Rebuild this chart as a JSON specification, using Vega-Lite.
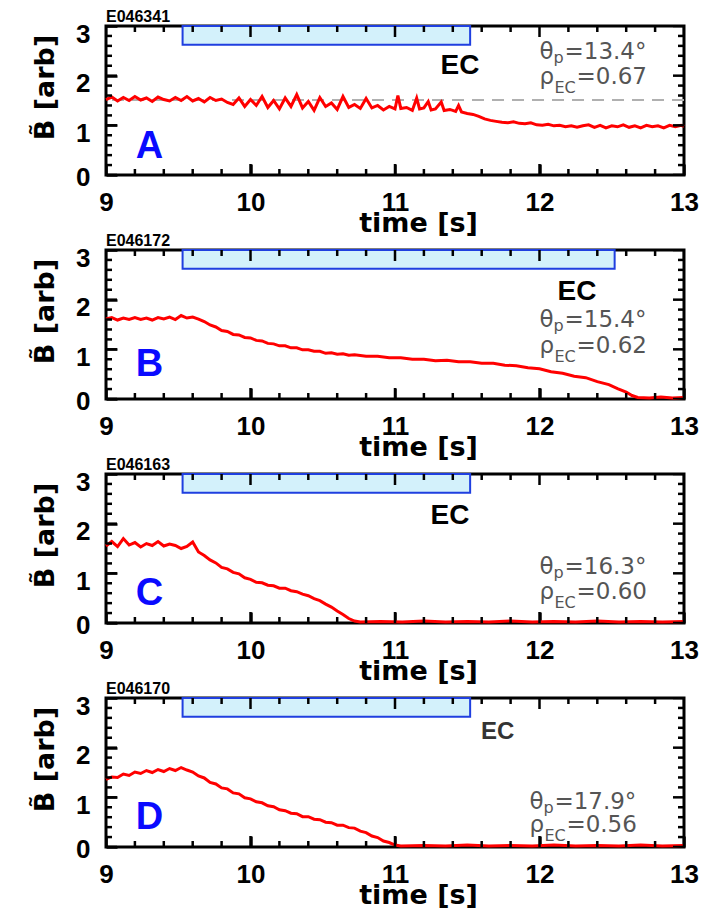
{
"$schema":"https://vega.github.io/schema/vega-lite/v6.json",
"background":"white",
"padding":{"left":30,"top":7,"right":5,"bottom":2},
"bounds":"flush",
"spacing":75,
"datasets":{
"signal":[
{"panel":"A","t":9.00,"b":1.52},{"panel":"A","t":9.04,"b":1.57},{"panel":"A","t":9.08,"b":1.49},{"panel":"A","t":9.12,"b":1.56},{"panel":"A","t":9.16,"b":1.50},{"panel":"A","t":9.20,"b":1.58},{"panel":"A","t":9.24,"b":1.51},{"panel":"A","t":9.28,"b":1.55},{"panel":"A","t":9.32,"b":1.48},{"panel":"A","t":9.36,"b":1.57},{"panel":"A","t":9.40,"b":1.52},{"panel":"A","t":9.44,"b":1.49},{"panel":"A","t":9.48,"b":1.56},{"panel":"A","t":9.52,"b":1.50},{"panel":"A","t":9.56,"b":1.58},{"panel":"A","t":9.60,"b":1.49},{"panel":"A","t":9.64,"b":1.54},{"panel":"A","t":9.68,"b":1.47},{"panel":"A","t":9.72,"b":1.56},{"panel":"A","t":9.76,"b":1.50},{"panel":"A","t":9.80,"b":1.53},{"panel":"A","t":9.84,"b":1.46},{"panel":"A","t":9.88,"b":1.42},{"panel":"A","t":9.92,"b":1.55},{"panel":"A","t":9.96,"b":1.38},{"panel":"A","t":10.00,"b":1.52},{"panel":"A","t":10.04,"b":1.40},{"panel":"A","t":10.08,"b":1.58},{"panel":"A","t":10.12,"b":1.36},{"panel":"A","t":10.16,"b":1.50},{"panel":"A","t":10.20,"b":1.33},{"panel":"A","t":10.24,"b":1.55},{"panel":"A","t":10.28,"b":1.38},{"panel":"A","t":10.32,"b":1.62},{"panel":"A","t":10.36,"b":1.35},{"panel":"A","t":10.40,"b":1.48},{"panel":"A","t":10.44,"b":1.30},{"panel":"A","t":10.48,"b":1.56},{"panel":"A","t":10.52,"b":1.38},{"panel":"A","t":10.56,"b":1.45},{"panel":"A","t":10.60,"b":1.32},{"panel":"A","t":10.64,"b":1.58},{"panel":"A","t":10.68,"b":1.36},{"panel":"A","t":10.72,"b":1.42},{"panel":"A","t":10.76,"b":1.34},{"panel":"A","t":10.80,"b":1.54},{"panel":"A","t":10.84,"b":1.35},{"panel":"A","t":10.88,"b":1.40},{"panel":"A","t":10.92,"b":1.31},{"panel":"A","t":10.96,"b":1.38},{"panel":"A","t":11.00,"b":1.33},{"panel":"A","t":11.02,"b":1.60},{"panel":"A","t":11.04,"b":1.34},{"panel":"A","t":11.08,"b":1.36},{"panel":"A","t":11.12,"b":1.30},{"panel":"A","t":11.15,"b":1.55},{"panel":"A","t":11.17,"b":1.33},{"panel":"A","t":11.20,"b":1.35},{"panel":"A","t":11.23,"b":1.48},{"panel":"A","t":11.25,"b":1.31},{"panel":"A","t":11.28,"b":1.33},{"panel":"A","t":11.32,"b":1.47},{"panel":"A","t":11.34,"b":1.30},{"panel":"A","t":11.38,"b":1.32},{"panel":"A","t":11.42,"b":1.28},{"panel":"A","t":11.44,"b":1.40},{"panel":"A","t":11.46,"b":1.27},{"panel":"A","t":11.50,"b":1.24},{"panel":"A","t":11.54,"b":1.22},{"panel":"A","t":11.58,"b":1.18},{"panel":"A","t":11.62,"b":1.13},{"panel":"A","t":11.66,"b":1.10},{"panel":"A","t":11.70,"b":1.08},{"panel":"A","t":11.74,"b":1.06},{"panel":"A","t":11.78,"b":1.05},{"panel":"A","t":11.82,"b":1.07},{"panel":"A","t":11.86,"b":1.04},{"panel":"A","t":11.90,"b":1.03},{"panel":"A","t":11.94,"b":1.05},{"panel":"A","t":11.98,"b":1.01},{"panel":"A","t":12.02,"b":1.00},{"panel":"A","t":12.06,"b":1.02},{"panel":"A","t":12.10,"b":0.99},{"panel":"A","t":12.14,"b":1.00},{"panel":"A","t":12.18,"b":0.97},{"panel":"A","t":12.22,"b":0.99},{"panel":"A","t":12.26,"b":0.96},{"panel":"A","t":12.30,"b":0.99},{"panel":"A","t":12.34,"b":1.01},{"panel":"A","t":12.38,"b":0.96},{"panel":"A","t":12.42,"b":1.00},{"panel":"A","t":12.46,"b":0.95},{"panel":"A","t":12.50,"b":0.99},{"panel":"A","t":12.54,"b":0.97},{"panel":"A","t":12.58,"b":1.01},{"panel":"A","t":12.62,"b":0.96},{"panel":"A","t":12.66,"b":0.99},{"panel":"A","t":12.70,"b":0.95},{"panel":"A","t":12.74,"b":1.00},{"panel":"A","t":12.78,"b":0.97},{"panel":"A","t":12.82,"b":0.99},{"panel":"A","t":12.86,"b":0.95},{"panel":"A","t":12.90,"b":1.00},{"panel":"A","t":12.94,"b":0.97},{"panel":"A","t":12.98,"b":1.00},{"panel":"A","t":13.00,"b":0.98},
{"panel":"B","t":9.00,"b":1.61},{"panel":"B","t":9.04,"b":1.64},{"panel":"B","t":9.08,"b":1.59},{"panel":"B","t":9.12,"b":1.63},{"panel":"B","t":9.16,"b":1.60},{"panel":"B","t":9.20,"b":1.64},{"panel":"B","t":9.24,"b":1.60},{"panel":"B","t":9.28,"b":1.63},{"panel":"B","t":9.32,"b":1.59},{"panel":"B","t":9.36,"b":1.64},{"panel":"B","t":9.40,"b":1.61},{"panel":"B","t":9.44,"b":1.65},{"panel":"B","t":9.48,"b":1.60},{"panel":"B","t":9.52,"b":1.68},{"panel":"B","t":9.56,"b":1.63},{"panel":"B","t":9.60,"b":1.65},{"panel":"B","t":9.64,"b":1.61},{"panel":"B","t":9.68,"b":1.56},{"panel":"B","t":9.72,"b":1.49},{"panel":"B","t":9.76,"b":1.45},{"panel":"B","t":9.80,"b":1.38},{"panel":"B","t":9.84,"b":1.36},{"panel":"B","t":9.88,"b":1.30},{"panel":"B","t":9.92,"b":1.29},{"panel":"B","t":9.96,"b":1.24},{"panel":"B","t":10.00,"b":1.23},{"panel":"B","t":10.04,"b":1.18},{"panel":"B","t":10.08,"b":1.17},{"panel":"B","t":10.12,"b":1.12},{"panel":"B","t":10.16,"b":1.11},{"panel":"B","t":10.20,"b":1.07},{"panel":"B","t":10.24,"b":1.07},{"panel":"B","t":10.28,"b":1.03},{"panel":"B","t":10.32,"b":1.03},{"panel":"B","t":10.36,"b":0.99},{"panel":"B","t":10.40,"b":0.99},{"panel":"B","t":10.44,"b":0.96},{"panel":"B","t":10.48,"b":0.96},{"panel":"B","t":10.52,"b":0.92},{"panel":"B","t":10.56,"b":0.93},{"panel":"B","t":10.60,"b":0.90},{"panel":"B","t":10.64,"b":0.91},{"panel":"B","t":10.68,"b":0.88},{"panel":"B","t":10.72,"b":0.89},{"panel":"B","t":10.80,"b":0.86},{"panel":"B","t":10.88,"b":0.86},{"panel":"B","t":10.96,"b":0.83},{"panel":"B","t":11.04,"b":0.83},{"panel":"B","t":11.12,"b":0.80},{"panel":"B","t":11.20,"b":0.80},{"panel":"B","t":11.28,"b":0.77},{"panel":"B","t":11.36,"b":0.78},{"panel":"B","t":11.44,"b":0.75},{"panel":"B","t":11.52,"b":0.75},{"panel":"B","t":11.60,"b":0.72},{"panel":"B","t":11.68,"b":0.72},{"panel":"B","t":11.76,"b":0.68},{"panel":"B","t":11.84,"b":0.67},{"panel":"B","t":11.92,"b":0.63},{"panel":"B","t":12.00,"b":0.61},{"panel":"B","t":12.08,"b":0.55},{"panel":"B","t":12.16,"b":0.52},{"panel":"B","t":12.24,"b":0.46},{"panel":"B","t":12.32,"b":0.43},{"panel":"B","t":12.40,"b":0.35},{"panel":"B","t":12.48,"b":0.29},{"panel":"B","t":12.54,"b":0.21},{"panel":"B","t":12.60,"b":0.14},{"panel":"B","t":12.64,"b":0.07},{"panel":"B","t":12.68,"b":0.03},{"panel":"B","t":12.76,"b":0.02},{"panel":"B","t":12.84,"b":0.04},{"panel":"B","t":12.92,"b":0.02},{"panel":"B","t":13.00,"b":0.03},
{"panel":"C","t":9.00,"b":1.55},{"panel":"C","t":9.04,"b":1.64},{"panel":"C","t":9.08,"b":1.54},{"panel":"C","t":9.12,"b":1.70},{"panel":"C","t":9.16,"b":1.57},{"panel":"C","t":9.20,"b":1.62},{"panel":"C","t":9.24,"b":1.53},{"panel":"C","t":9.28,"b":1.60},{"panel":"C","t":9.32,"b":1.56},{"panel":"C","t":9.36,"b":1.64},{"panel":"C","t":9.40,"b":1.55},{"panel":"C","t":9.44,"b":1.59},{"panel":"C","t":9.48,"b":1.56},{"panel":"C","t":9.52,"b":1.50},{"panel":"C","t":9.56,"b":1.54},{"panel":"C","t":9.60,"b":1.63},{"panel":"C","t":9.64,"b":1.43},{"panel":"C","t":9.68,"b":1.36},{"panel":"C","t":9.72,"b":1.27},{"panel":"C","t":9.76,"b":1.21},{"panel":"C","t":9.80,"b":1.12},{"panel":"C","t":9.84,"b":1.09},{"panel":"C","t":9.88,"b":1.02},{"panel":"C","t":9.92,"b":0.99},{"panel":"C","t":9.96,"b":0.91},{"panel":"C","t":10.00,"b":0.88},{"panel":"C","t":10.04,"b":0.82},{"panel":"C","t":10.08,"b":0.81},{"panel":"C","t":10.12,"b":0.76},{"panel":"C","t":10.16,"b":0.75},{"panel":"C","t":10.20,"b":0.70},{"panel":"C","t":10.24,"b":0.70},{"panel":"C","t":10.28,"b":0.65},{"panel":"C","t":10.32,"b":0.63},{"panel":"C","t":10.36,"b":0.58},{"panel":"C","t":10.40,"b":0.55},{"panel":"C","t":10.44,"b":0.49},{"panel":"C","t":10.48,"b":0.45},{"panel":"C","t":10.52,"b":0.38},{"panel":"C","t":10.56,"b":0.32},{"panel":"C","t":10.60,"b":0.24},{"panel":"C","t":10.64,"b":0.17},{"panel":"C","t":10.68,"b":0.09},{"panel":"C","t":10.72,"b":0.04},{"panel":"C","t":10.76,"b":0.02},{"panel":"C","t":10.90,"b":0.03},{"panel":"C","t":11.05,"b":0.02},{"panel":"C","t":11.20,"b":0.04},{"panel":"C","t":11.35,"b":0.02},{"panel":"C","t":11.50,"b":0.03},{"panel":"C","t":11.65,"b":0.02},{"panel":"C","t":11.80,"b":0.04},{"panel":"C","t":11.95,"b":0.02},{"panel":"C","t":12.10,"b":0.03},{"panel":"C","t":12.25,"b":0.02},{"panel":"C","t":12.40,"b":0.04},{"panel":"C","t":12.55,"b":0.02},{"panel":"C","t":12.70,"b":0.03},{"panel":"C","t":12.85,"b":0.02},{"panel":"C","t":13.00,"b":0.03},
{"panel":"D","t":9.00,"b":1.36},{"panel":"D","t":9.04,"b":1.41},{"panel":"D","t":9.08,"b":1.40},{"panel":"D","t":9.12,"b":1.47},{"panel":"D","t":9.16,"b":1.44},{"panel":"D","t":9.20,"b":1.51},{"panel":"D","t":9.24,"b":1.48},{"panel":"D","t":9.28,"b":1.54},{"panel":"D","t":9.32,"b":1.50},{"panel":"D","t":9.36,"b":1.56},{"panel":"D","t":9.40,"b":1.52},{"panel":"D","t":9.44,"b":1.58},{"panel":"D","t":9.48,"b":1.54},{"panel":"D","t":9.52,"b":1.60},{"panel":"D","t":9.56,"b":1.55},{"panel":"D","t":9.60,"b":1.51},{"panel":"D","t":9.64,"b":1.43},{"panel":"D","t":9.68,"b":1.39},{"panel":"D","t":9.72,"b":1.30},{"panel":"D","t":9.76,"b":1.27},{"panel":"D","t":9.80,"b":1.19},{"panel":"D","t":9.84,"b":1.17},{"panel":"D","t":9.88,"b":1.09},{"panel":"D","t":9.92,"b":1.07},{"panel":"D","t":9.96,"b":0.99},{"panel":"D","t":10.00,"b":0.97},{"panel":"D","t":10.04,"b":0.91},{"panel":"D","t":10.08,"b":0.89},{"panel":"D","t":10.12,"b":0.83},{"panel":"D","t":10.16,"b":0.81},{"panel":"D","t":10.20,"b":0.75},{"panel":"D","t":10.24,"b":0.73},{"panel":"D","t":10.28,"b":0.68},{"panel":"D","t":10.32,"b":0.67},{"panel":"D","t":10.36,"b":0.61},{"panel":"D","t":10.40,"b":0.61},{"panel":"D","t":10.44,"b":0.56},{"panel":"D","t":10.48,"b":0.55},{"panel":"D","t":10.52,"b":0.50},{"panel":"D","t":10.56,"b":0.49},{"panel":"D","t":10.60,"b":0.44},{"panel":"D","t":10.64,"b":0.44},{"panel":"D","t":10.68,"b":0.39},{"panel":"D","t":10.72,"b":0.38},{"panel":"D","t":10.76,"b":0.32},{"panel":"D","t":10.80,"b":0.29},{"panel":"D","t":10.84,"b":0.22},{"panel":"D","t":10.88,"b":0.19},{"panel":"D","t":10.92,"b":0.12},{"panel":"D","t":10.96,"b":0.09},{"panel":"D","t":11.00,"b":0.04},{"panel":"D","t":11.04,"b":0.02},{"panel":"D","t":11.20,"b":0.03},{"panel":"D","t":11.35,"b":0.02},{"panel":"D","t":11.50,"b":0.04},{"panel":"D","t":11.65,"b":0.02},{"panel":"D","t":11.80,"b":0.03},{"panel":"D","t":11.95,"b":0.02},{"panel":"D","t":12.10,"b":0.04},{"panel":"D","t":12.25,"b":0.02},{"panel":"D","t":12.40,"b":0.03},{"panel":"D","t":12.55,"b":0.02},{"panel":"D","t":12.70,"b":0.04},{"panel":"D","t":12.85,"b":0.02},{"panel":"D","t":13.00,"b":0.03}
],
"ec":[
{"panel":"A","start":9.53,"end":11.52,"lo":2.62,"hi":3,"ex":11.45,"ey":2.03},
{"panel":"B","start":9.53,"end":12.52,"lo":2.62,"hi":3,"ex":12.26,"ey":1.99},
{"panel":"C","start":9.53,"end":11.52,"lo":2.62,"hi":3,"ex":11.38,"ey":1.99},
{"panel":"D","start":9.53,"end":11.52,"lo":2.62,"hi":3,"ex":11.71,"ey":2.17}
],
"info":[
{"panel":"A","letter":"A","lx":9.30,"ly":0.34,"theta":"=13.4°","rho":"=0.67","tx":12.0,"ty1":2.33,"ty2":1.84},
{"panel":"B","letter":"B","lx":9.30,"ly":0.46,"theta":"=15.4°","rho":"=0.62","tx":12.0,"ty1":1.45,"ty2":0.93},
{"panel":"C","letter":"C","lx":9.30,"ly":0.36,"theta":"=16.3°","rho":"=0.60","tx":12.0,"ty1":0.99,"ty2":0.48},
{"panel":"D","letter":"D","lx":9.30,"ly":0.36,"theta":"=17.9°","rho":"=0.56","tx":11.93,"ty1":0.76,"ty2":0.30}
],
"ref":[{"panel":"A","level":1.51}],
"xticks":[
{"v":9,"kind":"major","edge":0},{"v":10,"kind":"major","edge":0},{"v":11,"kind":"major","edge":0},{"v":12,"kind":"major","edge":0},{"v":13,"kind":"major","edge":0},
{"v":9,"kind":"major","edge":3},{"v":10,"kind":"major","edge":3},{"v":11,"kind":"major","edge":3},{"v":12,"kind":"major","edge":3},{"v":13,"kind":"major","edge":3},
{"v":9.2,"kind":"minor","edge":0},{"v":9.4,"kind":"minor","edge":0},{"v":9.6,"kind":"minor","edge":0},{"v":9.8,"kind":"minor","edge":0},{"v":10.2,"kind":"minor","edge":0},{"v":10.4,"kind":"minor","edge":0},{"v":10.6,"kind":"minor","edge":0},{"v":10.8,"kind":"minor","edge":0},{"v":11.2,"kind":"minor","edge":0},{"v":11.4,"kind":"minor","edge":0},{"v":11.6,"kind":"minor","edge":0},{"v":11.8,"kind":"minor","edge":0},{"v":12.2,"kind":"minor","edge":0},{"v":12.4,"kind":"minor","edge":0},{"v":12.6,"kind":"minor","edge":0},{"v":12.8,"kind":"minor","edge":0},
{"v":9.2,"kind":"minor","edge":3},{"v":9.4,"kind":"minor","edge":3},{"v":9.6,"kind":"minor","edge":3},{"v":9.8,"kind":"minor","edge":3},{"v":10.2,"kind":"minor","edge":3},{"v":10.4,"kind":"minor","edge":3},{"v":10.6,"kind":"minor","edge":3},{"v":10.8,"kind":"minor","edge":3},{"v":11.2,"kind":"minor","edge":3},{"v":11.4,"kind":"minor","edge":3},{"v":11.6,"kind":"minor","edge":3},{"v":11.8,"kind":"minor","edge":3},{"v":12.2,"kind":"minor","edge":3},{"v":12.4,"kind":"minor","edge":3},{"v":12.6,"kind":"minor","edge":3},{"v":12.8,"kind":"minor","edge":3}
],
"yticks":[
{"v":0,"kind":"major","edge":9},{"v":1,"kind":"major","edge":9},{"v":2,"kind":"major","edge":9},{"v":3,"kind":"major","edge":9},
{"v":0,"kind":"major","edge":13},{"v":1,"kind":"major","edge":13},{"v":2,"kind":"major","edge":13},{"v":3,"kind":"major","edge":13},
{"v":0.2,"kind":"minor","edge":9},{"v":0.4,"kind":"minor","edge":9},{"v":0.6,"kind":"minor","edge":9},{"v":0.8,"kind":"minor","edge":9},{"v":1.2,"kind":"minor","edge":9},{"v":1.4,"kind":"minor","edge":9},{"v":1.6,"kind":"minor","edge":9},{"v":1.8,"kind":"minor","edge":9},{"v":2.2,"kind":"minor","edge":9},{"v":2.4,"kind":"minor","edge":9},{"v":2.6,"kind":"minor","edge":9},{"v":2.8,"kind":"minor","edge":9},
{"v":0.2,"kind":"minor","edge":13},{"v":0.4,"kind":"minor","edge":13},{"v":0.6,"kind":"minor","edge":13},{"v":0.8,"kind":"minor","edge":13},{"v":1.2,"kind":"minor","edge":13},{"v":1.4,"kind":"minor","edge":13},{"v":1.6,"kind":"minor","edge":13},{"v":1.8,"kind":"minor","edge":13},{"v":2.2,"kind":"minor","edge":13},{"v":2.4,"kind":"minor","edge":13},{"v":2.6,"kind":"minor","edge":13},{"v":2.8,"kind":"minor","edge":13}
]
},
"vconcat":[
{"width":578,"height":149,"title":{"text":"E046341"},
"layer":[
{"data":{"name":"ec"},"transform":[{"filter":"datum.panel==='A'"}],"mark":{"type":"rect","fill":"#d3f1fb","stroke":"#1f3fe0","strokeWidth":2},
"encoding":{"x":{"field":"start","type":"quantitative","scale":{"domain":[9,13],"nice":false},"axis":{"orient":"bottom","offset":-11,"values":[9,10,11,12,13],"format":"d","tickSize":11,"labelPadding":14,"title":"time [s]","titlePadding":-5,"titleX":312}},"x2":{"field":"end"},
"y":{"field":"lo","type":"quantitative","scale":{"domain":[0,3],"nice":false},"axis":{"orient":"left","offset":-11,"values":[0,1,2,3],"format":"d","tickSize":11,"labelPadding":16,"labelOffset":{"condition":{"test":"datum.value===0","value":2},"value":8},"title":"B̃ [arb]","titlePadding":16,"titleY":61}},"y2":{"field":"hi"}}},
{"data":{"name":"ref"},"transform":[{"filter":"datum.panel==='A'"}],"mark":{"type":"rule","color":"#b0b0b0","strokeWidth":2,"strokeDash":[12,8]},"encoding":{"y":{"field":"level","type":"quantitative","axis":null}}},
{"data":{"name":"signal"},"transform":[{"filter":"datum.panel==='A'"}],"mark":{"type":"line","color":"#ff0000","strokeWidth":3},"encoding":{"x":{"field":"t","type":"quantitative","axis":null},"y":{"field":"b","type":"quantitative","axis":null}}},
{"data":{"name":"info"},"transform":[{"filter":"datum.panel==='A'"}],"mark":{"type":"text","font":"Liberation Sans","fontWeight":"bold","fontSize":38,"color":"#0a0aff","align":"center","baseline":"alphabetic"},"encoding":{"x":{"field":"lx","type":"quantitative","axis":null},"y":{"field":"ly","type":"quantitative","axis":null},"text":{"field":"letter"}}},
{"data":{"name":"ec"},"transform":[{"filter":"datum.panel==='A'"}],"mark":{"type":"text","text":"EC","font":"Liberation Sans","fontWeight":"bold","fontSize":28,"color":"black","align":"center","baseline":"alphabetic"},"encoding":{"x":{"field":"ex","type":"quantitative","axis":null},"y":{"field":"ey","type":"quantitative","axis":null}}},
{"data":{"name":"info"},"transform":[{"filter":"datum.panel==='A'"}],"mark":{"type":"text","text":"θ","font":"DejaVu Sans","fontSize":23,"color":"#555555","align":"left","baseline":"alphabetic"},"encoding":{"x":{"field":"tx","type":"quantitative","axis":null},"y":{"field":"ty1","type":"quantitative","axis":null}}},
{"data":{"name":"info"},"transform":[{"filter":"datum.panel==='A'"}],"mark":{"type":"text","text":"p","font":"DejaVu Sans","fontSize":16,"color":"#555555","align":"left","baseline":"alphabetic","dx":14,"dy":4},"encoding":{"x":{"field":"tx","type":"quantitative","axis":null},"y":{"field":"ty1","type":"quantitative","axis":null}}},
{"data":{"name":"info"},"transform":[{"filter":"datum.panel==='A'"}],"mark":{"type":"text","font":"DejaVu Sans","fontSize":23,"color":"#555555","align":"left","baseline":"alphabetic","dx":25},"encoding":{"x":{"field":"tx","type":"quantitative","axis":null},"y":{"field":"ty1","type":"quantitative","axis":null},"text":{"field":"theta"}}},
{"data":{"name":"info"},"transform":[{"filter":"datum.panel==='A'"}],"mark":{"type":"text","text":"ρ","font":"DejaVu Sans","fontSize":23,"color":"#555555","align":"left","baseline":"alphabetic"},"encoding":{"x":{"field":"tx","type":"quantitative","axis":null},"y":{"field":"ty2","type":"quantitative","axis":null}}},
{"data":{"name":"info"},"transform":[{"filter":"datum.panel==='A'"}],"mark":{"type":"text","text":"EC","font":"DejaVu Sans","fontSize":16,"color":"#555555","align":"left","baseline":"alphabetic","dx":15,"dy":9},"encoding":{"x":{"field":"tx","type":"quantitative","axis":null},"y":{"field":"ty2","type":"quantitative","axis":null}}},
{"data":{"name":"info"},"transform":[{"filter":"datum.panel==='A'"}],"mark":{"type":"text","font":"DejaVu Sans","fontSize":23,"color":"#555555","align":"left","baseline":"alphabetic","dx":37},"encoding":{"x":{"field":"tx","type":"quantitative","axis":null},"y":{"field":"ty2","type":"quantitative","axis":null},"text":{"field":"rho"}}},
{"data":{"name":"xticks"},"transform":[{"filter":"datum.kind==='major'"}],"mark":{"type":"tick","orient":"vertical","size":22,"thickness":2.5,"color":"black","opacity":1,"clip":true},"encoding":{"x":{"field":"v","type":"quantitative","axis":null},"y":{"field":"edge","type":"quantitative","axis":null}}},
{"data":{"name":"xticks"},"transform":[{"filter":"datum.kind==='minor'"}],"mark":{"type":"tick","orient":"vertical","size":12,"thickness":2.5,"color":"black","opacity":1,"clip":true},"encoding":{"x":{"field":"v","type":"quantitative","axis":null},"y":{"field":"edge","type":"quantitative","axis":null}}},
{"data":{"name":"yticks"},"transform":[{"filter":"datum.kind==='major'"}],"mark":{"type":"tick","orient":"horizontal","size":22,"thickness":2.5,"color":"black","opacity":1,"clip":true},"encoding":{"x":{"field":"edge","type":"quantitative","axis":null},"y":{"field":"v","type":"quantitative","axis":null}}},
{"data":{"name":"yticks"},"transform":[{"filter":"datum.kind==='minor'"}],"mark":{"type":"tick","orient":"horizontal","size":12,"thickness":2.5,"color":"black","opacity":1,"clip":true},"encoding":{"x":{"field":"edge","type":"quantitative","axis":null},"y":{"field":"v","type":"quantitative","axis":null}}}
],
"resolve":{"axis":{"x":"independent","y":"independent"}}},
{"width":578,"height":149,"title":{"text":"E046172"},
"layer":[
{"data":{"name":"ec"},"transform":[{"filter":"datum.panel==='B'"}],"mark":{"type":"rect","fill":"#d3f1fb","stroke":"#1f3fe0","strokeWidth":2},
"encoding":{"x":{"field":"start","type":"quantitative","scale":{"domain":[9,13],"nice":false},"axis":{"orient":"bottom","offset":-11,"values":[9,10,11,12,13],"format":"d","tickSize":11,"labelPadding":14,"title":"time [s]","titlePadding":-5,"titleX":312}},"x2":{"field":"end"},
"y":{"field":"lo","type":"quantitative","scale":{"domain":[0,3],"nice":false},"axis":{"orient":"left","offset":-11,"values":[0,1,2,3],"format":"d","tickSize":11,"labelPadding":16,"labelOffset":{"condition":{"test":"datum.value===0","value":2},"value":8},"title":"B̃ [arb]","titlePadding":16,"titleY":61}},"y2":{"field":"hi"}}},
{"data":{"name":"signal"},"transform":[{"filter":"datum.panel==='B'"}],"mark":{"type":"line","color":"#ff0000","strokeWidth":3},"encoding":{"x":{"field":"t","type":"quantitative","axis":null},"y":{"field":"b","type":"quantitative","axis":null}}},
{"data":{"name":"info"},"transform":[{"filter":"datum.panel==='B'"}],"mark":{"type":"text","font":"Liberation Sans","fontWeight":"bold","fontSize":38,"color":"#0a0aff","align":"center","baseline":"alphabetic"},"encoding":{"x":{"field":"lx","type":"quantitative","axis":null},"y":{"field":"ly","type":"quantitative","axis":null},"text":{"field":"letter"}}},
{"data":{"name":"ec"},"transform":[{"filter":"datum.panel==='B'"}],"mark":{"type":"text","text":"EC","font":"Liberation Sans","fontWeight":"bold","fontSize":28,"color":"black","align":"center","baseline":"alphabetic"},"encoding":{"x":{"field":"ex","type":"quantitative","axis":null},"y":{"field":"ey","type":"quantitative","axis":null}}},
{"data":{"name":"info"},"transform":[{"filter":"datum.panel==='B'"}],"mark":{"type":"text","text":"θ","font":"DejaVu Sans","fontSize":23,"color":"#555555","align":"left","baseline":"alphabetic"},"encoding":{"x":{"field":"tx","type":"quantitative","axis":null},"y":{"field":"ty1","type":"quantitative","axis":null}}},
{"data":{"name":"info"},"transform":[{"filter":"datum.panel==='B'"}],"mark":{"type":"text","text":"p","font":"DejaVu Sans","fontSize":16,"color":"#555555","align":"left","baseline":"alphabetic","dx":14,"dy":4},"encoding":{"x":{"field":"tx","type":"quantitative","axis":null},"y":{"field":"ty1","type":"quantitative","axis":null}}},
{"data":{"name":"info"},"transform":[{"filter":"datum.panel==='B'"}],"mark":{"type":"text","font":"DejaVu Sans","fontSize":23,"color":"#555555","align":"left","baseline":"alphabetic","dx":25},"encoding":{"x":{"field":"tx","type":"quantitative","axis":null},"y":{"field":"ty1","type":"quantitative","axis":null},"text":{"field":"theta"}}},
{"data":{"name":"info"},"transform":[{"filter":"datum.panel==='B'"}],"mark":{"type":"text","text":"ρ","font":"DejaVu Sans","fontSize":23,"color":"#555555","align":"left","baseline":"alphabetic"},"encoding":{"x":{"field":"tx","type":"quantitative","axis":null},"y":{"field":"ty2","type":"quantitative","axis":null}}},
{"data":{"name":"info"},"transform":[{"filter":"datum.panel==='B'"}],"mark":{"type":"text","text":"EC","font":"DejaVu Sans","fontSize":16,"color":"#555555","align":"left","baseline":"alphabetic","dx":15,"dy":9},"encoding":{"x":{"field":"tx","type":"quantitative","axis":null},"y":{"field":"ty2","type":"quantitative","axis":null}}},
{"data":{"name":"info"},"transform":[{"filter":"datum.panel==='B'"}],"mark":{"type":"text","font":"DejaVu Sans","fontSize":23,"color":"#555555","align":"left","baseline":"alphabetic","dx":37},"encoding":{"x":{"field":"tx","type":"quantitative","axis":null},"y":{"field":"ty2","type":"quantitative","axis":null},"text":{"field":"rho"}}},
{"data":{"name":"xticks"},"transform":[{"filter":"datum.kind==='major'"}],"mark":{"type":"tick","orient":"vertical","size":22,"thickness":2.5,"color":"black","opacity":1,"clip":true},"encoding":{"x":{"field":"v","type":"quantitative","axis":null},"y":{"field":"edge","type":"quantitative","axis":null}}},
{"data":{"name":"xticks"},"transform":[{"filter":"datum.kind==='minor'"}],"mark":{"type":"tick","orient":"vertical","size":12,"thickness":2.5,"color":"black","opacity":1,"clip":true},"encoding":{"x":{"field":"v","type":"quantitative","axis":null},"y":{"field":"edge","type":"quantitative","axis":null}}},
{"data":{"name":"yticks"},"transform":[{"filter":"datum.kind==='major'"}],"mark":{"type":"tick","orient":"horizontal","size":22,"thickness":2.5,"color":"black","opacity":1,"clip":true},"encoding":{"x":{"field":"edge","type":"quantitative","axis":null},"y":{"field":"v","type":"quantitative","axis":null}}},
{"data":{"name":"yticks"},"transform":[{"filter":"datum.kind==='minor'"}],"mark":{"type":"tick","orient":"horizontal","size":12,"thickness":2.5,"color":"black","opacity":1,"clip":true},"encoding":{"x":{"field":"edge","type":"quantitative","axis":null},"y":{"field":"v","type":"quantitative","axis":null}}}
],
"resolve":{"axis":{"x":"independent","y":"independent"}}},
{"width":578,"height":149,"title":{"text":"E046163"},
"layer":[
{"data":{"name":"ec"},"transform":[{"filter":"datum.panel==='C'"}],"mark":{"type":"rect","fill":"#d3f1fb","stroke":"#1f3fe0","strokeWidth":2},
"encoding":{"x":{"field":"start","type":"quantitative","scale":{"domain":[9,13],"nice":false},"axis":{"orient":"bottom","offset":-11,"values":[9,10,11,12,13],"format":"d","tickSize":11,"labelPadding":14,"title":"time [s]","titlePadding":-5,"titleX":312}},"x2":{"field":"end"},
"y":{"field":"lo","type":"quantitative","scale":{"domain":[0,3],"nice":false},"axis":{"orient":"left","offset":-11,"values":[0,1,2,3],"format":"d","tickSize":11,"labelPadding":16,"labelOffset":{"condition":{"test":"datum.value===0","value":2},"value":8},"title":"B̃ [arb]","titlePadding":16,"titleY":61}},"y2":{"field":"hi"}}},
{"data":{"name":"signal"},"transform":[{"filter":"datum.panel==='C'"}],"mark":{"type":"line","color":"#ff0000","strokeWidth":3},"encoding":{"x":{"field":"t","type":"quantitative","axis":null},"y":{"field":"b","type":"quantitative","axis":null}}},
{"data":{"name":"info"},"transform":[{"filter":"datum.panel==='C'"}],"mark":{"type":"text","font":"Liberation Sans","fontWeight":"bold","fontSize":38,"color":"#0a0aff","align":"center","baseline":"alphabetic"},"encoding":{"x":{"field":"lx","type":"quantitative","axis":null},"y":{"field":"ly","type":"quantitative","axis":null},"text":{"field":"letter"}}},
{"data":{"name":"ec"},"transform":[{"filter":"datum.panel==='C'"}],"mark":{"type":"text","text":"EC","font":"Liberation Sans","fontWeight":"bold","fontSize":28,"color":"black","align":"center","baseline":"alphabetic"},"encoding":{"x":{"field":"ex","type":"quantitative","axis":null},"y":{"field":"ey","type":"quantitative","axis":null}}},
{"data":{"name":"info"},"transform":[{"filter":"datum.panel==='C'"}],"mark":{"type":"text","text":"θ","font":"DejaVu Sans","fontSize":23,"color":"#555555","align":"left","baseline":"alphabetic"},"encoding":{"x":{"field":"tx","type":"quantitative","axis":null},"y":{"field":"ty1","type":"quantitative","axis":null}}},
{"data":{"name":"info"},"transform":[{"filter":"datum.panel==='C'"}],"mark":{"type":"text","text":"p","font":"DejaVu Sans","fontSize":16,"color":"#555555","align":"left","baseline":"alphabetic","dx":14,"dy":4},"encoding":{"x":{"field":"tx","type":"quantitative","axis":null},"y":{"field":"ty1","type":"quantitative","axis":null}}},
{"data":{"name":"info"},"transform":[{"filter":"datum.panel==='C'"}],"mark":{"type":"text","font":"DejaVu Sans","fontSize":23,"color":"#555555","align":"left","baseline":"alphabetic","dx":25},"encoding":{"x":{"field":"tx","type":"quantitative","axis":null},"y":{"field":"ty1","type":"quantitative","axis":null},"text":{"field":"theta"}}},
{"data":{"name":"info"},"transform":[{"filter":"datum.panel==='C'"}],"mark":{"type":"text","text":"ρ","font":"DejaVu Sans","fontSize":23,"color":"#555555","align":"left","baseline":"alphabetic"},"encoding":{"x":{"field":"tx","type":"quantitative","axis":null},"y":{"field":"ty2","type":"quantitative","axis":null}}},
{"data":{"name":"info"},"transform":[{"filter":"datum.panel==='C'"}],"mark":{"type":"text","text":"EC","font":"DejaVu Sans","fontSize":16,"color":"#555555","align":"left","baseline":"alphabetic","dx":15,"dy":9},"encoding":{"x":{"field":"tx","type":"quantitative","axis":null},"y":{"field":"ty2","type":"quantitative","axis":null}}},
{"data":{"name":"info"},"transform":[{"filter":"datum.panel==='C'"}],"mark":{"type":"text","font":"DejaVu Sans","fontSize":23,"color":"#555555","align":"left","baseline":"alphabetic","dx":37},"encoding":{"x":{"field":"tx","type":"quantitative","axis":null},"y":{"field":"ty2","type":"quantitative","axis":null},"text":{"field":"rho"}}},
{"data":{"name":"xticks"},"transform":[{"filter":"datum.kind==='major'"}],"mark":{"type":"tick","orient":"vertical","size":22,"thickness":2.5,"color":"black","opacity":1,"clip":true},"encoding":{"x":{"field":"v","type":"quantitative","axis":null},"y":{"field":"edge","type":"quantitative","axis":null}}},
{"data":{"name":"xticks"},"transform":[{"filter":"datum.kind==='minor'"}],"mark":{"type":"tick","orient":"vertical","size":12,"thickness":2.5,"color":"black","opacity":1,"clip":true},"encoding":{"x":{"field":"v","type":"quantitative","axis":null},"y":{"field":"edge","type":"quantitative","axis":null}}},
{"data":{"name":"yticks"},"transform":[{"filter":"datum.kind==='major'"}],"mark":{"type":"tick","orient":"horizontal","size":22,"thickness":2.5,"color":"black","opacity":1,"clip":true},"encoding":{"x":{"field":"edge","type":"quantitative","axis":null},"y":{"field":"v","type":"quantitative","axis":null}}},
{"data":{"name":"yticks"},"transform":[{"filter":"datum.kind==='minor'"}],"mark":{"type":"tick","orient":"horizontal","size":12,"thickness":2.5,"color":"black","opacity":1,"clip":true},"encoding":{"x":{"field":"edge","type":"quantitative","axis":null},"y":{"field":"v","type":"quantitative","axis":null}}}
],
"resolve":{"axis":{"x":"independent","y":"independent"}}},
{"width":578,"height":149,"title":{"text":"E046170"},
"layer":[
{"data":{"name":"ec"},"transform":[{"filter":"datum.panel==='D'"}],"mark":{"type":"rect","fill":"#d3f1fb","stroke":"#1f3fe0","strokeWidth":2},
"encoding":{"x":{"field":"start","type":"quantitative","scale":{"domain":[9,13],"nice":false},"axis":{"orient":"bottom","offset":-11,"values":[9,10,11,12,13],"format":"d","tickSize":11,"labelPadding":14,"title":"time [s]","titlePadding":-5,"titleX":312}},"x2":{"field":"end"},
"y":{"field":"lo","type":"quantitative","scale":{"domain":[0,3],"nice":false},"axis":{"orient":"left","offset":-11,"values":[0,1,2,3],"format":"d","tickSize":11,"labelPadding":16,"labelOffset":{"condition":{"test":"datum.value===0","value":2},"value":8},"title":"B̃ [arb]","titlePadding":16,"titleY":61}},"y2":{"field":"hi"}}},
{"data":{"name":"signal"},"transform":[{"filter":"datum.panel==='D'"}],"mark":{"type":"line","color":"#ff0000","strokeWidth":3},"encoding":{"x":{"field":"t","type":"quantitative","axis":null},"y":{"field":"b","type":"quantitative","axis":null}}},
{"data":{"name":"info"},"transform":[{"filter":"datum.panel==='D'"}],"mark":{"type":"text","font":"Liberation Sans","fontWeight":"bold","fontSize":38,"color":"#0a0aff","align":"center","baseline":"alphabetic"},"encoding":{"x":{"field":"lx","type":"quantitative","axis":null},"y":{"field":"ly","type":"quantitative","axis":null},"text":{"field":"letter"}}},
{"data":{"name":"ec"},"transform":[{"filter":"datum.panel==='D'"}],"mark":{"type":"text","text":"EC","font":"Liberation Sans","fontWeight":"bold","fontSize":24,"color":"#333333","align":"center","baseline":"alphabetic"},"encoding":{"x":{"field":"ex","type":"quantitative","axis":null},"y":{"field":"ey","type":"quantitative","axis":null}}},
{"data":{"name":"info"},"transform":[{"filter":"datum.panel==='D'"}],"mark":{"type":"text","text":"θ","font":"DejaVu Sans","fontSize":23,"color":"#555555","align":"left","baseline":"alphabetic"},"encoding":{"x":{"field":"tx","type":"quantitative","axis":null},"y":{"field":"ty1","type":"quantitative","axis":null}}},
{"data":{"name":"info"},"transform":[{"filter":"datum.panel==='D'"}],"mark":{"type":"text","text":"p","font":"DejaVu Sans","fontSize":16,"color":"#555555","align":"left","baseline":"alphabetic","dx":14,"dy":4},"encoding":{"x":{"field":"tx","type":"quantitative","axis":null},"y":{"field":"ty1","type":"quantitative","axis":null}}},
{"data":{"name":"info"},"transform":[{"filter":"datum.panel==='D'"}],"mark":{"type":"text","font":"DejaVu Sans","fontSize":23,"color":"#555555","align":"left","baseline":"alphabetic","dx":25},"encoding":{"x":{"field":"tx","type":"quantitative","axis":null},"y":{"field":"ty1","type":"quantitative","axis":null},"text":{"field":"theta"}}},
{"data":{"name":"info"},"transform":[{"filter":"datum.panel==='D'"}],"mark":{"type":"text","text":"ρ","font":"DejaVu Sans","fontSize":23,"color":"#555555","align":"left","baseline":"alphabetic"},"encoding":{"x":{"field":"tx","type":"quantitative","axis":null},"y":{"field":"ty2","type":"quantitative","axis":null}}},
{"data":{"name":"info"},"transform":[{"filter":"datum.panel==='D'"}],"mark":{"type":"text","text":"EC","font":"DejaVu Sans","fontSize":16,"color":"#555555","align":"left","baseline":"alphabetic","dx":15,"dy":9},"encoding":{"x":{"field":"tx","type":"quantitative","axis":null},"y":{"field":"ty2","type":"quantitative","axis":null}}},
{"data":{"name":"info"},"transform":[{"filter":"datum.panel==='D'"}],"mark":{"type":"text","font":"DejaVu Sans","fontSize":23,"color":"#555555","align":"left","baseline":"alphabetic","dx":37},"encoding":{"x":{"field":"tx","type":"quantitative","axis":null},"y":{"field":"ty2","type":"quantitative","axis":null},"text":{"field":"rho"}}},
{"data":{"name":"xticks"},"transform":[{"filter":"datum.kind==='major'"}],"mark":{"type":"tick","orient":"vertical","size":22,"thickness":2.5,"color":"black","opacity":1,"clip":true},"encoding":{"x":{"field":"v","type":"quantitative","axis":null},"y":{"field":"edge","type":"quantitative","axis":null}}},
{"data":{"name":"xticks"},"transform":[{"filter":"datum.kind==='minor'"}],"mark":{"type":"tick","orient":"vertical","size":12,"thickness":2.5,"color":"black","opacity":1,"clip":true},"encoding":{"x":{"field":"v","type":"quantitative","axis":null},"y":{"field":"edge","type":"quantitative","axis":null}}},
{"data":{"name":"yticks"},"transform":[{"filter":"datum.kind==='major'"}],"mark":{"type":"tick","orient":"horizontal","size":22,"thickness":2.5,"color":"black","opacity":1,"clip":true},"encoding":{"x":{"field":"edge","type":"quantitative","axis":null},"y":{"field":"v","type":"quantitative","axis":null}}},
{"data":{"name":"yticks"},"transform":[{"filter":"datum.kind==='minor'"}],"mark":{"type":"tick","orient":"horizontal","size":12,"thickness":2.5,"color":"black","opacity":1,"clip":true},"encoding":{"x":{"field":"edge","type":"quantitative","axis":null},"y":{"field":"v","type":"quantitative","axis":null}}}
],
"resolve":{"axis":{"x":"independent","y":"independent"}}}
],
"config":{
"view":{"stroke":"black","strokeWidth":3},
"axis":{"labelFont":"Liberation Sans","labelFontWeight":"bold","labelFontSize":26,"labelColor":"black","titleFont":"DejaVu Sans","titleFontWeight":"bold","titleFontSize":27,"titleColor":"black","ticks":true,"tickColor":"black","tickWidth":2.5,"domain":false,"grid":false,"labelFlush":false,"labelOverlap":false,"zindex":1},
"title":{"anchor":"start","frame":"group","font":"Liberation Sans","fontSize":16,"fontWeight":"bold","color":"black","offset":-4}
}
}
